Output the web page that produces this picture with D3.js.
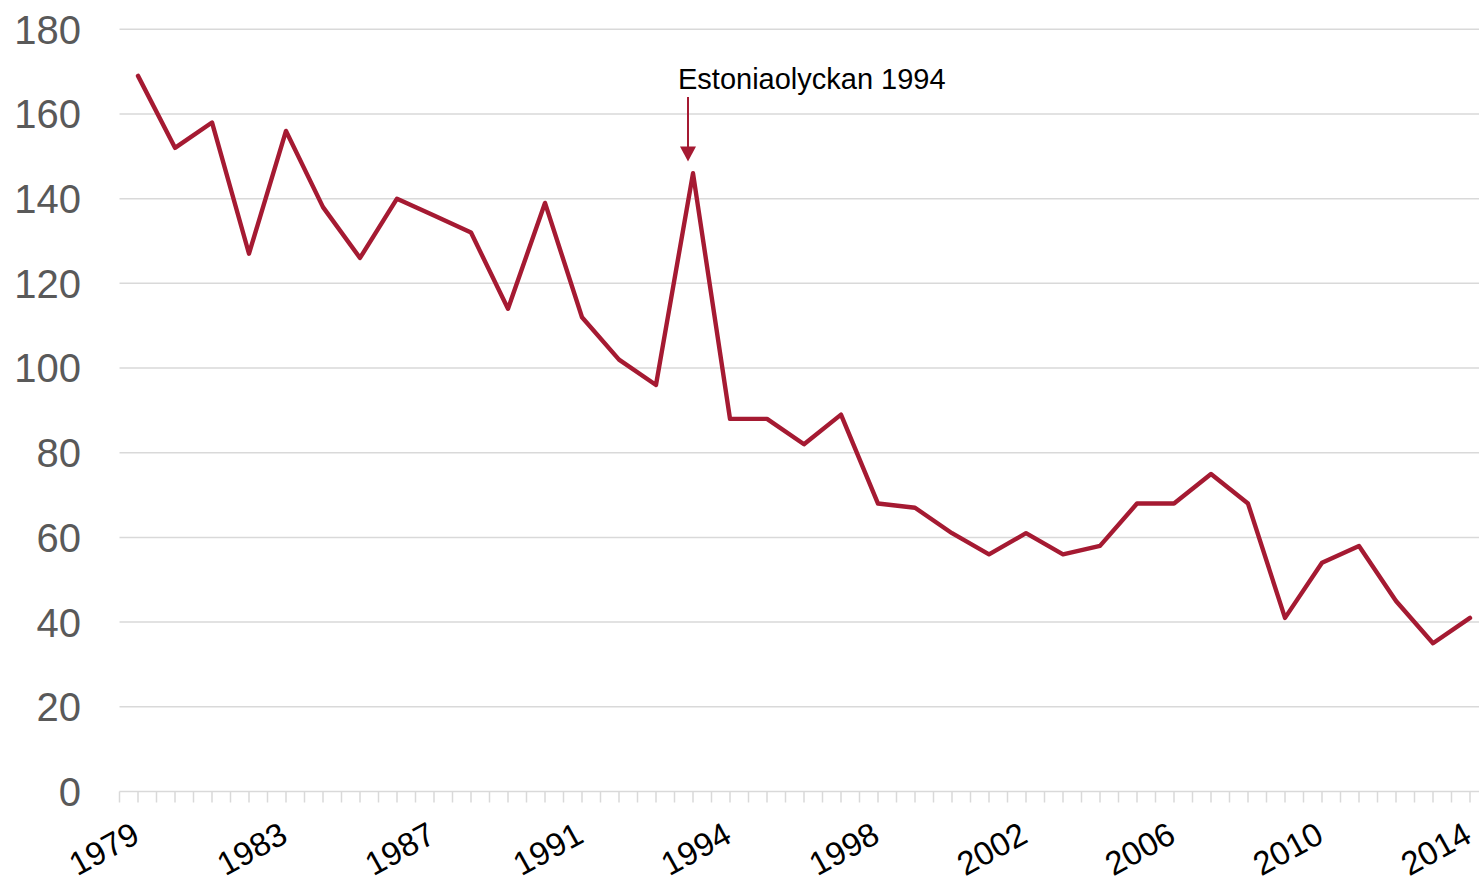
<!DOCTYPE html>
<html>
<head>
<meta charset="utf-8">
<script src="https://cdn.jsdelivr.net/npm/d3@7"></script>
<style>
  html, body { margin: 0; padding: 0; background: #fff; }
  svg { display: block; }
  text { font-family: "Liberation Sans", Arial, sans-serif; }
</style>
</head>
<body>
<svg id="chart" width="1479" height="884"></svg>
<script>
// ---- data ----
const categories = ["1979","1980","1981","1982","1983","1984","1985","1986","1987","1988",
  "1989","1990","1991","1992","1993","1994 (Estonia)","1994","1995","1996","1997",
  "1998","1999","2000","2001","2002","2003","2004","2005","2006","2007",
  "2008","2009","2010","2011","2012","2013","2014"];
const values = [169,152,158,127,156,138,126,140,136,132,
  114,139,112,102,96,146,88,88,82,89,
  68,67,61,56,61,56,58,68,68,75,
  68,41,54,58,45,35,41];
const tickLabelIndex = [0,4,8,12,16,20,24,28,32,36];
const yTicks = [0,20,40,60,80,100,120,140,160,180];
const annotation = { index: 15, text: "Estoniaolyckan 1994" };

// ---- chart ----
const svg = d3.select("#chart");
const lineColor = "#a51a32";

const x = d3.scaleLinear().domain([-0.5, categories.length - 0.5]).range([119.5, 1488.5]);
const y = d3.scaleLinear().domain([0, 180]).range([791.5, 29.3]);

// gridlines
svg.append("g").selectAll("line").data(yTicks.filter(d => d > 0)).join("line")
  .attr("x1", x(-0.5)).attr("x2", 1479)
  .attr("y1", d => y(d)).attr("y2", d => y(d))
  .attr("stroke", "#d9d9d9").attr("stroke-width", 1.5);

// y labels
svg.append("g").selectAll("text").data(yTicks).join("text")
  .attr("x", 81).attr("y", d => y(d)).attr("dy", "0.36em")
  .attr("text-anchor", "end")
  .attr("font-size", 40).attr("fill", "#595959")
  .text(d => d);

// x axis line
svg.append("line")
  .attr("x1", x(-0.5)).attr("x2", 1479)
  .attr("y1", y(0)).attr("y2", y(0))
  .attr("stroke", "#d9d9d9").attr("stroke-width", 1.5);

// x ticks every half category
const tickPos = d3.range(-0.5, categories.length - 0.5 + 0.001, 0.5);
svg.append("g").selectAll("line").data(tickPos).join("line")
  .attr("x1", d => x(d)).attr("x2", d => x(d))
  .attr("y1", y(0)).attr("y2", y(0) + 11)
  .attr("stroke", "#d9d9d9").attr("stroke-width", 1.5);

// x labels
const tickLabel = i => categories[i].slice(0, 4);
svg.append("g").selectAll("text").data(tickLabelIndex).join("text")
  .attr("transform", i => `translate(${x(i) + 3.5},841) rotate(-29)`)
  .attr("text-anchor", "end")
  .attr("font-size", 33).attr("fill", "#000")
  .text(i => tickLabel(i));

// line
const line = d3.line().x((d, i) => x(i)).y(d => y(d));
svg.append("path").datum(values)
  .attr("d", line)
  .attr("fill", "none").attr("stroke", lineColor)
  .attr("stroke-width", 4.4).attr("stroke-linejoin", "round").attr("stroke-linecap", "round");

// annotation
const ax = x(annotation.index) - 5;
svg.append("text").attr("x", x(annotation.index) - 15).attr("y", 89)
  .attr("font-size", 29).attr("fill", "#000").text(annotation.text);
svg.append("line").attr("x1", ax).attr("x2", ax).attr("y1", 97).attr("y2", 150)
  .attr("stroke", lineColor).attr("stroke-width", 2);
svg.append("path")
  .attr("d", `M${ax - 8},146.5 L${ax + 8},146.5 L${ax},161.5 Z`)
  .attr("fill", lineColor);
</script>
</body>
</html>
